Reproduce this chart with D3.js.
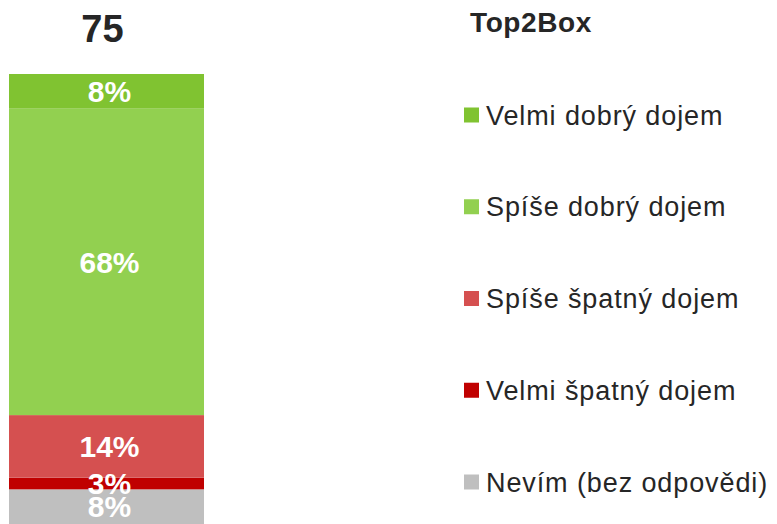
<!DOCTYPE html>
<html lang="cs">
    <head>
        <meta charset="UTF-8" />
        <title>Top2Box</title>
        <script src="https://d3js.org/d3.v7.min.js"></script>
        <style>
            body {
                margin: 0;
                background: #fff;
                font-family: Arial, "Liberation Sans", sans-serif;
            }
            .seg-label {
                fill: #fff;
                font-weight: bold;
                font-size: 30px;
            }
            .legend text {
                fill: #262626;
                font-size: 27px;
                letter-spacing: 0.9px;
            }
        </style>
    </head>
    <body>
        <svg width="777" height="524"></svg>

        <script>
            // data (top segment first)
            const categories = [
                "Velmi dobrý dojem",
                "Spíše dobrý dojem",
                "Spíše špatný dojem",
                "Velmi špatný dojem",
                "Nevím (bez odpovědi)",
            ];
            const values = [7.7, 68.1, 13.9, 2.6, 7.7];
            const valueLabels = ["8%", "68%", "14%", "3%", "8%"];
            const colors = ["#80c331", "#92d050", "#d55050", "#c00000", "#bfbfbf"];
            const barName = "75";
            const legendTitle = "Top2Box";

            const svg = d3.select("svg");

            const x = d3.scaleBand().domain([barName]).range([9, 204]).padding(0);
            const y = d3.scaleLinear().domain([0, 100]).range([524, 74]);

            // stack from the bottom up (last category sits at the bottom)
            const segs = [];
            let acc = 0;
            for (let i = values.length - 1; i >= 0; i--) {
                segs.push({
                    name: categories[i],
                    label: valueLabels[i],
                    color: colors[i],
                    y0: acc,
                    y1: acc + values[i],
                });
                acc += values[i];
            }

            svg.append("text")
                .attr("x", x(barName) + x.bandwidth() / 2 - 4)
                .attr("y", 42)
                .attr("text-anchor", "middle")
                .attr("font-size", 38)
                .attr("font-weight", "bold")
                .attr("fill", "#262626")
                .text(barName);

            svg.append("g")
                .selectAll("rect")
                .data(segs)
                .enter()
                .append("rect")
                .attr("x", x(barName))
                .attr("width", x.bandwidth())
                .attr("y", (d) => y(d.y1))
                .attr("height", (d) => y(d.y0) - y(d.y1))
                .attr("fill", (d) => d.color);

            svg.append("g")
                .selectAll("text")
                .data(segs)
                .enter()
                .append("text")
                .attr("class", "seg-label")
                .attr("x", x(barName) + x.bandwidth() / 2 + 3)
                .attr("y", (d) => (y(d.y0) + y(d.y1)) / 2)
                .attr("dy", "0.36em")
                .attr("text-anchor", "middle")
                .text((d) => d.label);

            // legend
            svg.append("text")
                .attr("x", 470)
                .attr("y", 32)
                .attr("font-size", 28)
                .attr("font-weight", "bold")
                .attr("letter-spacing", 0.6)
                .attr("fill", "#262626")
                .text(legendTitle);

            const ly = d3.scalePoint().domain(categories).range([115, 482]);

            const item = svg
                .append("g")
                .attr("class", "legend")
                .selectAll("g")
                .data(categories)
                .enter()
                .append("g")
                .attr("transform", (d) => `translate(464,${ly(d)})`);

            item.append("rect")
                .attr("x", 0)
                .attr("y", -7.5)
                .attr("width", 15)
                .attr("height", 15)
                .attr("fill", (d, i) => colors[i]);

            item.append("text")
                .attr("x", 22)
                .attr("y", 9.5)
                .text((d) => d);
        </script>
    </body>
</html>
